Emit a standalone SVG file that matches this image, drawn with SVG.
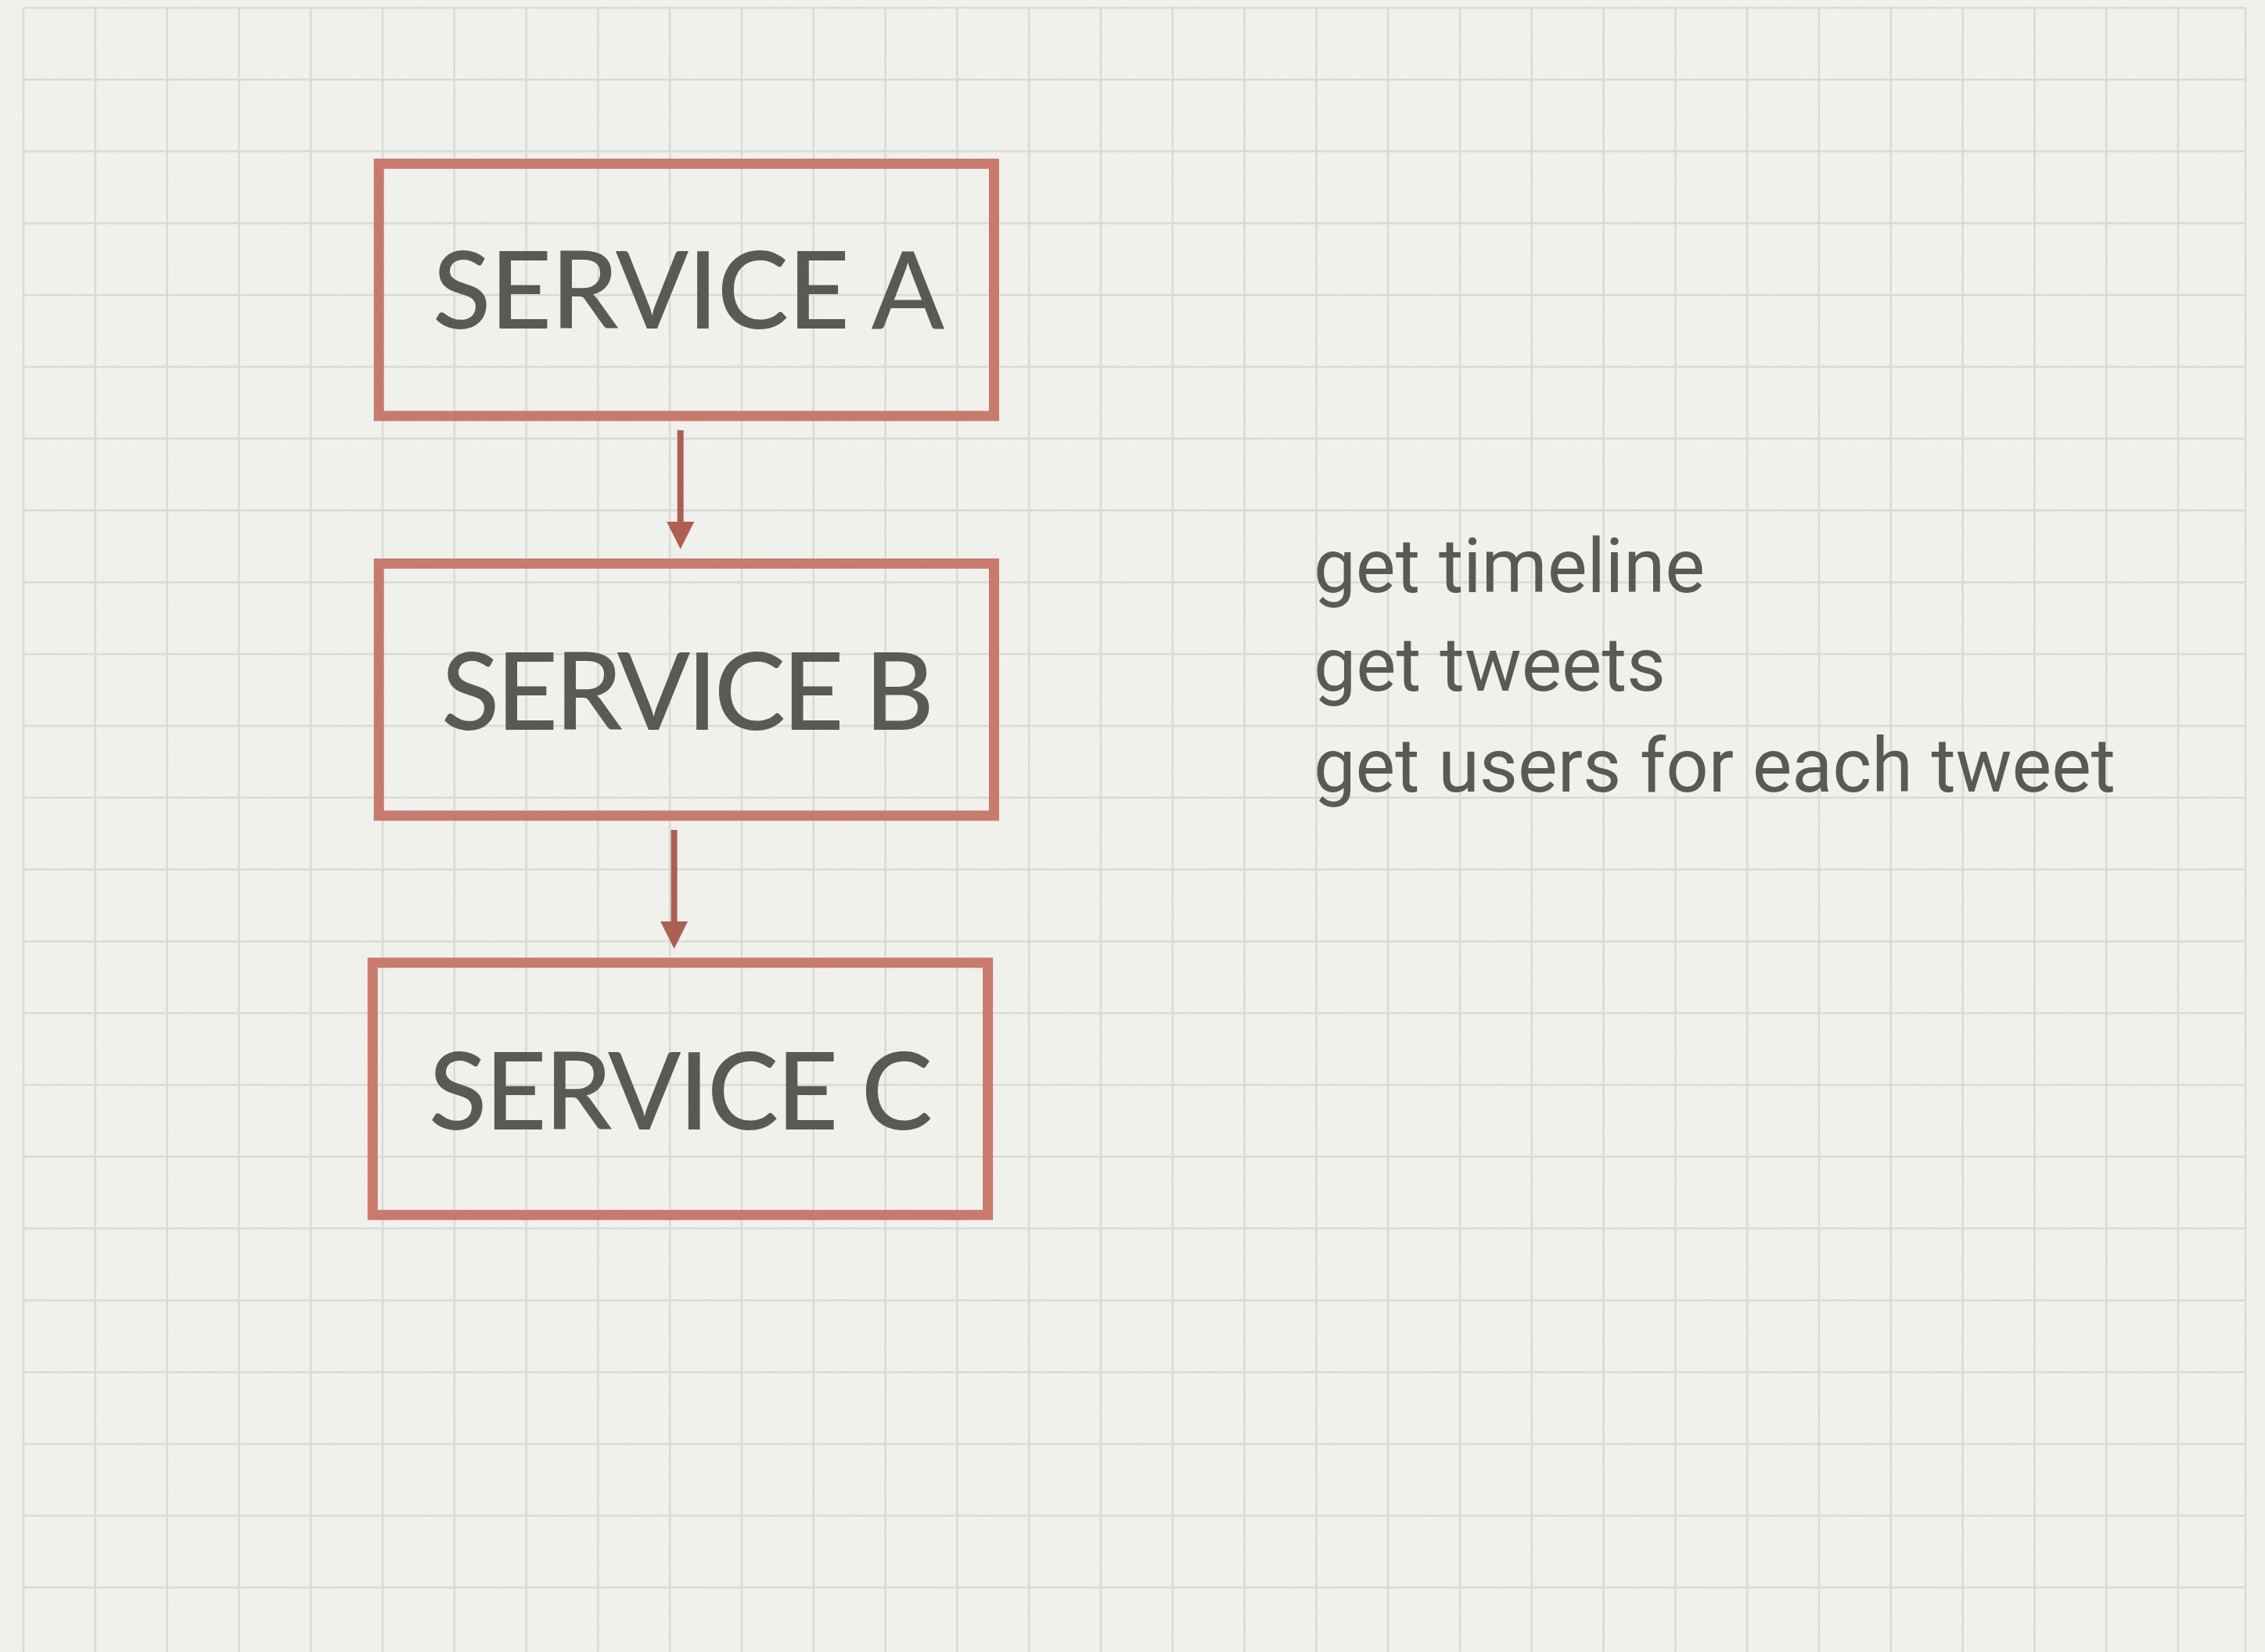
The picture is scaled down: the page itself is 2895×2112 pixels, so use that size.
<svg xmlns="http://www.w3.org/2000/svg" width="2895" height="2112" viewBox="0 0 2895 2112">
  <defs>
    <style>
      .grid line { stroke: #d9d9d6; stroke-width: 2.5; }
      .box { fill: none; stroke: #c87a6d; stroke-width: 13; }
      .label { font-family: Lato, "Liberation Sans", sans-serif; font-size: 137px; font-weight: 500; fill: #5b5955; font-variant-ligatures: none; }
      .note { font-family: Roboto, "Liberation Sans", sans-serif; font-size: 96px; fill: #5b5955; font-variant-ligatures: none; }
      .conn { stroke: #ad5f52; stroke-width: 8; fill: none; }
    </style>
    <marker id="head" markerUnits="userSpaceOnUse" markerWidth="36" markerHeight="36" refX="0" refY="17.5" orient="auto" viewBox="0 0 36 36">
      <path d="M0,0 L35,17.5 L0,35 Z" fill="#ad5f52"/>
    </marker>
    <filter id="paper" x="0" y="0" width="100%" height="100%">
      <feTurbulence type="fractalNoise" baseFrequency="0.6" numOctaves="2" seed="3"/>
      <feColorMatrix type="matrix" values="0 0 0 0 0.5  0 0 0 0 0.5  0 0 0 0 0.5  0 0 0 0.08 0"/>
    </filter>
  </defs>

  <rect x="0" y="0" width="2895" height="2112" fill="#f2f2ef"/>
  <rect x="0" y="0" width="2895" height="2112" filter="url(#paper)"/>

  <g class="grid" id="grid">
    <line x1="30" y1="10" x2="30" y2="2112"/>
    <line x1="121.8" y1="10" x2="121.8" y2="2112"/>
    <line x1="213.6" y1="10" x2="213.6" y2="2112"/>
    <line x1="305.4" y1="10" x2="305.4" y2="2112"/>
    <line x1="397.2" y1="10" x2="397.2" y2="2112"/>
    <line x1="489" y1="10" x2="489" y2="2112"/>
    <line x1="580.8" y1="10" x2="580.8" y2="2112"/>
    <line x1="672.6" y1="10" x2="672.6" y2="2112"/>
    <line x1="764.4" y1="10" x2="764.4" y2="2112"/>
    <line x1="856.2" y1="10" x2="856.2" y2="2112"/>
    <line x1="948" y1="10" x2="948" y2="2112"/>
    <line x1="1039.8" y1="10" x2="1039.8" y2="2112"/>
    <line x1="1131.6" y1="10" x2="1131.6" y2="2112"/>
    <line x1="1223.4" y1="10" x2="1223.4" y2="2112"/>
    <line x1="1315.2" y1="10" x2="1315.2" y2="2112"/>
    <line x1="1407" y1="10" x2="1407" y2="2112"/>
    <line x1="1498.8" y1="10" x2="1498.8" y2="2112"/>
    <line x1="1590.6" y1="10" x2="1590.6" y2="2112"/>
    <line x1="1682.4" y1="10" x2="1682.4" y2="2112"/>
    <line x1="1774.2" y1="10" x2="1774.2" y2="2112"/>
    <line x1="1866" y1="10" x2="1866" y2="2112"/>
    <line x1="1957.8" y1="10" x2="1957.8" y2="2112"/>
    <line x1="2049.6" y1="10" x2="2049.6" y2="2112"/>
    <line x1="2141.4" y1="10" x2="2141.4" y2="2112"/>
    <line x1="2233.2" y1="10" x2="2233.2" y2="2112"/>
    <line x1="2325" y1="10" x2="2325" y2="2112"/>
    <line x1="2416.8" y1="10" x2="2416.8" y2="2112"/>
    <line x1="2508.6" y1="10" x2="2508.6" y2="2112"/>
    <line x1="2600.4" y1="10" x2="2600.4" y2="2112"/>
    <line x1="2692.2" y1="10" x2="2692.2" y2="2112"/>
    <line x1="2784" y1="10" x2="2784" y2="2112"/>
    <line x1="2870" y1="10" x2="2870" y2="2112"/>

    <line x1="30" y1="10" x2="2870" y2="10"/>
    <line x1="30" y1="101.8" x2="2870" y2="101.8"/>
    <line x1="30" y1="193.6" x2="2870" y2="193.6"/>
    <line x1="30" y1="285.4" x2="2870" y2="285.4"/>
    <line x1="30" y1="377.2" x2="2870" y2="377.2"/>
    <line x1="30" y1="469" x2="2870" y2="469"/>
    <line x1="30" y1="560.8" x2="2870" y2="560.8"/>
    <line x1="30" y1="652.6" x2="2870" y2="652.6"/>
    <line x1="30" y1="744.4" x2="2870" y2="744.4"/>
    <line x1="30" y1="836.2" x2="2870" y2="836.2"/>
    <line x1="30" y1="928" x2="2870" y2="928"/>
    <line x1="30" y1="1019.8" x2="2870" y2="1019.8"/>
    <line x1="30" y1="1111.6" x2="2870" y2="1111.6"/>
    <line x1="30" y1="1203.4" x2="2870" y2="1203.4"/>
    <line x1="30" y1="1295.2" x2="2870" y2="1295.2"/>
    <line x1="30" y1="1387" x2="2870" y2="1387"/>
    <line x1="30" y1="1478.8" x2="2870" y2="1478.8"/>
    <line x1="30" y1="1570.6" x2="2870" y2="1570.6"/>
    <line x1="30" y1="1662.4" x2="2870" y2="1662.4"/>
    <line x1="30" y1="1754.2" x2="2870" y2="1754.2"/>
    <line x1="30" y1="1846" x2="2870" y2="1846"/>
    <line x1="30" y1="1937.8" x2="2870" y2="1937.8"/>
    <line x1="30" y1="2029.6" x2="2870" y2="2029.6"/>
  </g>

  <g id="connectors">
    <line class="conn" x1="869.7" y1="550" x2="869.7" y2="667" marker-end="url(#head)"/>
    <line class="conn" x1="861.6" y1="1061" x2="861.6" y2="1178" marker-end="url(#head)"/>
  </g>

  <g id="service-a">
    <rect class="box" x="484.2" y="209.3" width="786.3" height="322.5"/>
    <text class="label" x="553" y="420" textLength="654" lengthAdjust="spacing">SERVICE A</text>
  </g>

  <g id="service-b">
    <rect class="box" x="484.2" y="720.5" width="786.3" height="322.3"/>
    <text class="label" x="564" y="932.7" textLength="630" lengthAdjust="spacing">SERVICE B</text>
  </g>

  <g id="service-c">
    <rect class="box" x="476.3" y="1230.8" width="786.3" height="322.5"/>
    <text class="label" x="548" y="1443.6" textLength="644" lengthAdjust="spacing">SERVICE C</text>
  </g>

  <g id="notes">
    <text class="note" x="1679" y="756.7" textLength="500" lengthAdjust="spacingAndGlyphs">get timeline</text>
    <text class="note" x="1679" y="883.3" textLength="450" lengthAdjust="spacingAndGlyphs">get tweets</text>
    <text class="note" x="1679" y="1011.7" textLength="1025" lengthAdjust="spacingAndGlyphs">get users for each tweet</text>
  </g>
</svg>
